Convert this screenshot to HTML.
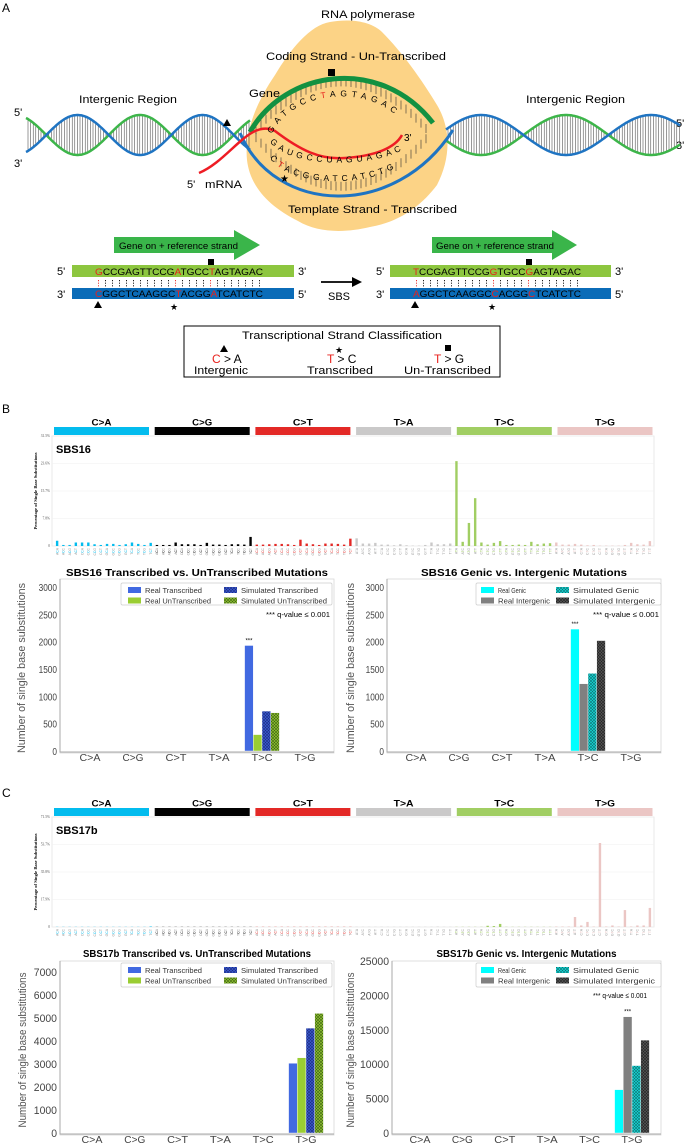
<!DOCTYPE html>
<html><head><meta charset="utf-8"><title>Transcriptional strand figure</title>
<style>
html,body{margin:0;padding:0;background:#fff;}
svg{display:block;font-family:"Liberation Sans",Arial,sans-serif;}
</style></head>
<body>
<svg id="fig" width="685" height="1146" viewBox="0 0 685 1146" xmlns="http://www.w3.org/2000/svg">
<defs>
  <pattern id="hatchBlue" width="3" height="3" patternUnits="userSpaceOnUse"><rect width="3" height="3" fill="#3b5bd0"/><path d="M0,3L3,0M0,0L3,3" stroke="#1a2a80" stroke-width="0.6"/></pattern>
  <pattern id="hatchGreen" width="3" height="3" patternUnits="userSpaceOnUse"><rect width="3" height="3" fill="#8fc232"/><path d="M0,3L3,0M0,0L3,3" stroke="#3d6010" stroke-width="0.6"/></pattern>
  <pattern id="hatchCyan" width="3" height="3" patternUnits="userSpaceOnUse"><rect width="3" height="3" fill="#19d4d4"/><path d="M0,3L3,0M0,0L3,3" stroke="#0a7070" stroke-width="0.6"/></pattern>
  <pattern id="hatchGray" width="3" height="3" patternUnits="userSpaceOnUse"><rect width="3" height="3" fill="#555"/><path d="M0,3L3,0M0,0L3,3" stroke="#222" stroke-width="0.6"/></pattern>
  <path id="topArcPath" d="M272,134 C292,90 372,82 404,124"/>
  <path id="mrnaPath" d="M270,142 C290,168 370,168 402,150"/>
  <path id="tmplPath" d="M270,158 C290,188 372,188 402,163"/>
</defs>

<!-- ================= PANEL A ================= -->
<g>
  <text x="2" y="12" font-size="12">A</text>
  <path fill="#fcd386" d="M330,22 C352,18 372,22 382,32 C402,52 422,80 437,105 C452,130 450,160 437,185 C422,205 400,222 370,227 C345,233 318,233 298,221 C268,206 250,186 247,160 C244,130 258,100 275,75 C290,50 310,25 330,22 Z"/>
  <text x="321" y="18" font-size="11" textLength="94" lengthAdjust="spacingAndGlyphs">RNA polymerase</text>
  <text x="266" y="60" font-size="11" textLength="180" lengthAdjust="spacingAndGlyphs">Coding Strand - Un-Transcribed</text>
  <text x="79" y="103" font-size="11" textLength="98" lengthAdjust="spacingAndGlyphs">Intergenic Region</text>
  <text x="526" y="103" font-size="11" textLength="99" lengthAdjust="spacingAndGlyphs">Intergenic Region</text>
  <text x="249" y="97" font-size="11" textLength="31" lengthAdjust="spacingAndGlyphs">Gene</text>
  <text x="14" y="116" font-size="11">5'</text>
  <text x="14" y="167" font-size="11">3'</text>
  <text x="676" y="127" font-size="11">5'</text>
  <text x="676" y="149" font-size="11">3'</text>
  <g id="helix"></g>
  <g id="blobRungs"></g>
  <path d="M250,132 C285,70 380,55 433,123" fill="none" stroke="#139141" stroke-width="5"/>
  <path d="M240,133 C275,215 395,220 453,130" fill="none" stroke="#1f74c2" stroke-width="3"/>
  <path d="M199,173 C230,160 250,118 275,131 C300,150 320,160 345,158 C375,156 395,148 402,135" fill="none" stroke="#ee1c24" stroke-width="2.5"/>
  <rect x="328" y="69" width="7" height="7" fill="#000"/>
  <polygon points="227,119 231,126 223,126" fill="#000"/>
  <text x="280" y="182" font-size="10">★</text>
  <text font-size="8.5"><textPath href="#topArcPath" letter-spacing="4.5">GATGCC<tspan fill="#e8221c">T</tspan>AGTAGAC</textPath></text>
  <text font-size="8.5"><textPath href="#mrnaPath" letter-spacing="4">GAUGCCUAGUAGAC</textPath></text>
  <text font-size="8.5"><textPath href="#tmplPath" letter-spacing="4">C<tspan fill="#e8221c">T</tspan>ACGGATCATCTG</textPath></text>
  <text x="404" y="141" font-size="10">3'</text>
  <text x="187" y="188" font-size="11">5'</text>
  <text x="205" y="188" font-size="11" textLength="37" lengthAdjust="spacingAndGlyphs">mRNA</text>
  <text x="288" y="213" font-size="11" textLength="169" lengthAdjust="spacingAndGlyphs">Template Strand - Transcribed</text>

  <g>
    <polygon points="114,237 234,237 234,230 260,245 234,260 234,253 114,253" fill="#3ab54a"/>
    <text x="119" y="249" font-size="9" textLength="119" lengthAdjust="spacingAndGlyphs">Gene on + reference strand</text>
    <rect x="72" y="265" width="222" height="12" fill="#8dc63f"/>
    <rect x="72" y="288" width="222" height="11" fill="#0b6cb8"/>
    <text x="95" y="275" font-size="9" textLength="168" lengthAdjust="spacingAndGlyphs"><tspan fill="#e8221c">G</tspan>CCGAGTTCCG<tspan fill="#e8221c">A</tspan>TGCC<tspan fill="#e8221c">T</tspan>AGTAGAC</text>
    <text x="95" y="297" font-size="9" textLength="168" lengthAdjust="spacingAndGlyphs"><tspan fill="#e8221c">C</tspan>GGCTCAAGGC<tspan fill="#e8221c">T</tspan>ACGG<tspan fill="#e8221c">A</tspan>TCATCTC</text>
    <text x="57" y="275" font-size="11">5'</text>
    <text x="298" y="275" font-size="11">3'</text>
    <text x="57" y="298" font-size="11">3'</text>
    <text x="298" y="298" font-size="11">5'</text>
    <rect x="208" y="259" width="6" height="6" fill="#000"/>
    <polygon points="98,301 102,308 94,308" fill="#000"/>
    <text x="170" y="310" font-size="9">★</text>
    <g id="dotsLeft"></g>
  </g>
  <line x1="321" y1="282" x2="355" y2="282" stroke="#000" stroke-width="1.8"/>
  <polygon points="362,282 352,277 352,287" fill="#000"/>
  <text x="328" y="300" font-size="11">SBS</text>
  <g>
    <polygon points="432,237 552,237 552,230 577,245 552,260 552,253 432,253" fill="#3ab54a"/>
    <text x="436" y="249" font-size="9" textLength="118" lengthAdjust="spacingAndGlyphs">Gene on + reference strand</text>
    <rect x="390" y="265" width="221" height="12" fill="#8dc63f"/>
    <rect x="390" y="288" width="221" height="11" fill="#0b6cb8"/>
    <text x="413" y="275" font-size="9" textLength="168" lengthAdjust="spacingAndGlyphs"><tspan fill="#e8221c">T</tspan>CCGAGTTCCG<tspan fill="#e8221c">G</tspan>TGCC<tspan fill="#e8221c">G</tspan>AGTAGAC</text>
    <text x="413" y="297" font-size="9" textLength="168" lengthAdjust="spacingAndGlyphs"><tspan fill="#e8221c">A</tspan>GGCTCAAGGC<tspan fill="#e8221c">C</tspan>ACGG<tspan fill="#e8221c">C</tspan>TCATCTC</text>
    <text x="376" y="275" font-size="11">5'</text>
    <text x="615" y="275" font-size="11">3'</text>
    <text x="376" y="298" font-size="11">3'</text>
    <text x="615" y="298" font-size="11">5'</text>
    <rect x="526" y="259" width="6" height="6" fill="#000"/>
    <polygon points="415,301 419,308 411,308" fill="#000"/>
    <text x="488" y="310" font-size="9">★</text>
    <g id="dotsRight"></g>
  </g>
  <g>
    <rect x="184" y="326" width="316" height="51" fill="#fff" stroke="#000" stroke-width="1"/>
    <text x="242" y="339" font-size="11" textLength="200" lengthAdjust="spacingAndGlyphs">Transcriptional Strand Classification</text>
    <polygon points="224,345 228,352 220,352" fill="#000"/>
    <text x="212" y="363" font-size="12"><tspan fill="#e8221c">C</tspan> &gt; A</text>
    <text x="194" y="374" font-size="11" textLength="54" lengthAdjust="spacingAndGlyphs">Intergenic</text>
    <text x="335" y="353" font-size="9">★</text>
    <text x="327" y="363" font-size="12"><tspan fill="#e8221c">T</tspan> &gt; C</text>
    <text x="307" y="374" font-size="11" textLength="66" lengthAdjust="spacingAndGlyphs">Transcribed</text>
    <rect x="445" y="345" width="6" height="6" fill="#000"/>
    <text x="434" y="363" font-size="12"><tspan fill="#e8221c">T</tspan> &gt; G</text>
    <text x="404" y="374" font-size="11" textLength="87" lengthAdjust="spacingAndGlyphs">Un-Transcribed</text>
  </g>
</g>

<text x="2" y="413" font-size="12">B</text>
<g id="profileB"></g>
<g id="strandB"></g>
<g id="genicB"></g>

<text x="2" y="797" font-size="12">C</text>
<g id="profileC"></g>
<g id="strandC"></g>
<g id="genicC"></g>
</svg>

<script>
const mutTypes = ['C>A','C>G','C>T','T>A','T>C','T>G'];
const mutColors = ['#03bcee','#010101','#e32926','#cac9c9','#a1ce63','#ebc6c4'];
const sbs16Pct = [
 1.5,0.3,0.3,1.0,1.0,1.0,0.5,0.3,0.6,0.6,0.3,0.5,1.0,0.6,0.3,0.9,
 0.3,0.3,0.3,1.0,0.5,0.5,0.5,0.3,0.9,0.4,0.4,0.3,0.5,0.5,0.4,2.6,
 0.4,0.4,0.5,0.6,0.6,0.5,0.3,1.8,0.7,0.5,0.3,0.7,0.7,0.6,0.4,2.1,
 2.2,0.7,0.7,0.9,0.4,0.4,0.2,0.5,0.2,0.1,0.1,0.3,1.0,0.5,0.5,0.7,
 24.3,1.2,6.6,13.7,1.0,0.4,0.9,1.4,0.3,0.3,0.4,0.3,1.2,0.5,0.7,0.8,
 1.0,0.4,0.4,0.6,0.4,0.2,0.3,0.1,0.1,0.1,0.1,0.3,0.9,0.5,0.4,1.4];
const sbs16Ticks = ['0','7.8%','15.7%','23.6%','31.5%'];
const sbs17bPct = [
 0.1,0.1,0.1,0.1,0.1,0.1,0.1,0.1,0.1,0.1,0.1,0.1,0.1,0.1,0.1,0.3,
 0.1,0.1,0.1,0.1,0.1,0.1,0.1,0.1,0.1,0.1,0.1,0.1,0.1,0.1,0.1,0.1,
 0.1,0.1,0.1,0.1,0.1,0.1,0.1,0.1,0.1,0.1,0.1,0.1,0.1,0.1,0.1,0.1,
 0.1,0.1,0.1,0.1,0.1,0.1,0.1,0.1,0.1,0.1,0.1,0.1,0.1,0.2,0.1,0.1,
 0.1,0.1,0.1,0.1,0.1,0.8,0.6,2.0,0.1,0.1,0.1,0.1,0.1,0.1,0.1,0.1,
 0.3,0.3,0.3,6.5,1.0,3.3,0.3,54.6,0.3,1.0,0.3,11.0,0.3,1.0,1.0,12.4];
const sbs17bTicks = ['0','17.9%','35.8%','53.7%','71.5%'];

const strandLegend = ['Real Transcribed','Real UnTranscribed','Simulated Transcribed','Simulated UnTranscribed'];
const genicLegend = ['Real Genic','Real Intergenic','Simulated Genic','Simulated Intergenic'];

const b_realTranscribed   = [0,0,0,0,1930,0];
const b_realUntranscribed = [0,0,0,0,300,0];
const b_simTranscribed    = [0,0,0,0,730,0];
const b_simUntranscribed  = [0,0,0,0,700,0];
const b_strandTicks = [0,500,1000,1500,2000,2500,3000];
const b_realGenic      = [0,0,0,0,2230,0];
const b_realIntergenic = [0,0,0,0,1230,0];
const b_simGenic       = [0,0,0,0,1420,0];
const b_simIntergenic  = [0,0,0,0,2020,0];
const b_genicTicks = [0,500,1000,1500,2000,2500,3000];

const c_realTranscribed   = [0,0,0,0,0,3030];
const c_realUntranscribed = [0,0,0,0,0,3270];
const c_simTranscribed    = [0,0,0,0,0,4560];
const c_simUntranscribed  = [0,0,0,0,0,5200];
const c_strandTicks = [0,1000,2000,3000,4000,5000,6000,7000];
const c_realGenic      = [0,0,0,0,0,6300];
const c_realIntergenic = [0,0,0,0,0,16900];
const c_simGenic       = [0,0,0,0,0,9800];
const c_simIntergenic  = [0,0,0,0,0,13500];
const c_genicTicks = [0,5000,10000,15000,20000,25000];

const NS = 'http://www.w3.org/2000/svg';
function mk(tag, attrs, parent){
  const e = document.createElementNS(NS, tag);
  for (const k in attrs) e.setAttribute(k, attrs[k]);
  parent.appendChild(e);
  return e;
}

(function(){
  const g = document.getElementById('helix');
  function seg(x0,x1,peak,period,cy,amp,inv){
    let d='';
    for(let x=x0;x<=x1;x+=1){
      const y = cy - (inv?-1:1)*amp*Math.cos(2*Math.PI*(x-peak)/period);
      d += (x===x0?'M':'L')+x+','+y.toFixed(1);
    }
    return d;
  }
  const parts = [[26,250,140,125,135],[446,680,566,170,135]];
  parts.forEach((p)=>{
    for(let x=p[0]+2;x<p[1];x+=2.6){
      const a = 20*Math.cos(2*Math.PI*(x-p[2])/p[3]);
      const r = mk('line',{x1:x,x2:x,y1:(p[4]-a).toFixed(1),y2:(p[4]+a).toFixed(1),stroke:'#333','stroke-width':0.5},g);
      
      
    }
    const gr = mk('path',{d:seg(p[0],p[1],p[2],p[3],p[4],20,false),fill:'none',stroke:'#3db54a','stroke-width':2.5},g);
    
    
    const bl = mk('path',{d:seg(p[0],p[1],p[2],p[3],p[4],20,true),fill:'none',stroke:'#1f74c2','stroke-width':2.5},g);
    
    
  });
  const br = document.getElementById('blobRungs');
  for(let x=256;x<=430;x+=5){
    const t=(x-250)/183;
    const yt = 132 - 230*t*(1-t)*0.95;
    const yb = 135 + 235*t*(1-t)*0.95;
    const l1 = mk('line',{x1:x,x2:x,y1:yt.toFixed(1),y2:(yt+9).toFixed(1),stroke:'#333','stroke-width':0.6},br);
    
    
    const l2 = mk('line',{x1:x,x2:x,y1:(yb-9).toFixed(1),y2:yb.toFixed(1),stroke:'#333','stroke-width':0.6},br);
    
    
  }
  [['dotsLeft',95],['dotsRight',413]].forEach(([id,x0])=>{
    const gd = document.getElementById(id);
    for(let i=0;i<24;i++){
      const red = (i===0||i===11||i===16);
      const l = mk('line',{x1:x0+3.5+i*7,x2:x0+3.5+i*7,y1:280,y2:287,stroke:red?'#e8221c':'#000','stroke-width':0.9,'stroke-dasharray':'1.2,1.4'},gd);
      
      
    }
  });
})();

function drawProfile(id, title, vals, maxPct, tickLabels, yCat, yTop, yBot){
  const g = document.getElementById(id);
  const x0=54, step=(653-54)/96;
  mutTypes.forEach((m,k)=>{
    const r = mk('rect',{x:54+100.7*k,y:yCat,width:95,height:8,fill:mutColors[k]},g);
    
    
    const t = mk('text',{x:54+100.7*k+47.5,y:yCat-1.5,'font-size':9.5,'font-weight':'bold','text-anchor':'middle',textLength:20,lengthAdjust:'spacingAndGlyphs'},g);
    t.textContent = m;
    
    
  });
  const box = mk('rect',{x:52,y:yTop,width:602,height:yBot-yTop,fill:'#fff',stroke:'#e4e4e4','stroke-width':0.8},g);
  
  
  const ys = v => yBot - v/maxPct*(yBot-yTop);
  tickLabels.forEach((lab,i)=>{
    const y = yBot - i/(tickLabels.length-1)*(yBot-yTop);
    const gl = mk('line',{x1:52,x2:654,y1:y,y2:y,stroke:'#f0f0f0','stroke-width':0.6},g);
    
    
    const t = mk('text',{x:50,y:y+1.2,'font-size':3.6,'text-anchor':'end',fill:'#555','font-family':'Liberation Serif, serif'},g);
    t.textContent = lab;
    
    
  });
  const yl = mk('text',{x:0,y:0,'font-size':4.6,'font-weight':'bold','text-anchor':'middle','font-family':'Liberation Serif, serif',transform:'translate(37,'+((yTop+yBot)/2)+') rotate(-90)'},g);
  yl.textContent = 'Percentage of Single Base Substitutions';
  
  
  const tt = mk('text',{x:56,y:yTop+17,'font-size':11,'font-weight':'bold'},g);
  tt.textContent = title;
  
  
  const bases='ACGT';
  vals.forEach((v,i)=>{
    const k = Math.floor(i/16);
    const cx = x0 + (i+0.5)*step;
    const b = mk('rect',{x:(cx-1.2).toFixed(2),y:ys(v).toFixed(2),width:2.4,height:(yBot-ys(v)).toFixed(2),fill:mutColors[k]},g);
    
    
    const ctx = bases[Math.floor((i%16)/4)] + mutTypes[k][0] + bases[i%4];
    const t = mk('text',{x:0,y:0,'font-size':3.4,fill:'#999','text-anchor':'end',transform:'translate('+(cx+1.2).toFixed(2)+','+(yBot+2)+') rotate(-90)'},g);
    t.textContent = ctx[0];
    const mid = mk('tspan',{fill:mutColors[k]},t);
    mid.textContent = ctx[1];
    const tail = mk('tspan',{},t);
    tail.textContent = ctx[2];
    
    
  });
}
drawProfile('profileB','SBS16',sbs16Pct,31.5,sbs16Ticks,427,436,546);
drawProfile('profileC','SBS17b',sbs17bPct,71.5,sbs17bTicks,808,817,927);

function drawBars(id, cfg){
  const g = document.getElementById(id);
  const {x0,x1,yTop,yZero,yMax,ticks,c0,dc,series,fills,legend,title,titleLen,titleY,sig,q,ylabelX,tickFont,tickLenPerChar} = cfg;
  const ys = v => yZero - v/yMax*(yZero-(cfg.yMaxPx));
  const fr = mk('rect',{x:x0,y:yTop,width:x1-x0,height:yZero-yTop+2,fill:'#fff',stroke:'#d8d8d8','stroke-width':0.8},g);
  
  
  const ax = mk('path',{d:'M'+x0+','+yTop+'V'+(yZero+1)+'H'+x1,fill:'none',stroke:'#aaa','stroke-width':1},g);
  
  
  ticks.forEach(v=>{
    const s = String(v);
    const t = mk('text',{x:x0-3,y:ys(v)+4,'font-size':tickFont,'text-anchor':'end',fill:'#444',textLength:s.length*tickLenPerChar,lengthAdjust:'spacingAndGlyphs'},g);
    t.textContent = s;
    
    
  });
  const yl = mk('text',{x:0,y:0,'font-size':11,'text-anchor':'middle',fill:'#555',textLength:cfg.ylabelLen,lengthAdjust:'spacingAndGlyphs',transform:'translate('+ylabelX+','+((yTop+yZero)/2+3)+') rotate(-90)'},g);
  yl.textContent = 'Number of single base substitutions';
  
  
  const tt = mk('text',{x:(x0+x1)/2,y:titleY,'font-size':10.5,'font-weight':'bold','text-anchor':'middle',textLength:titleLen,lengthAdjust:'spacingAndGlyphs'},g);
  tt.textContent = title;
  
  
  const bw = 8.7;
  mutTypes.forEach((m,i)=>{
    const cx = c0 + dc*i;
    const t = mk('text',{x:cx,y:yZero+10,'font-size':10,'text-anchor':'middle',fill:'#444',textLength:21,lengthAdjust:'spacingAndGlyphs'},g);
    t.textContent = m;
    
    
    series.forEach((arr,s)=>{
      const v = arr[i];
      if(v<=0) return;
      const bx = cx - 2*bw + s*bw;
      const r = mk('rect',{x:bx.toFixed(2),y:ys(v).toFixed(2),width:bw,height:(yZero-ys(v)).toFixed(2),fill:fills[s],stroke:'#fff','stroke-width':0.4},g);
      
      
    });
    if(sig && sig.cat===i){
      const v = series[sig.series][i];
      const st = mk('text',{x:cx-2*bw+sig.series*bw+bw/2,y:ys(v)-3,'font-size':6,'text-anchor':'middle'},g);
      st.textContent = '***';
      
      
    }
  });
  const L = cfg.leg;
  const lf = mk('rect',{x:L.x,y:L.y,width:L.w,height:L.h,fill:'#fff',stroke:'#ccc','stroke-width':0.7,rx:1.5},g);
  
  
  legend.forEach((name,s)=>{
    const col = s<2?0:1, row = s%2;
    const sx = L.sx[col], y = L.y+4+row*10.5;
    const sw = mk('rect',{x:sx,y:y,width:13,height:6,fill:fills[s]},g);
    
    
    const t = mk('text',{x:sx+17,y:y+6,'font-size':7.5,fill:'#333',textLength:L.lens[s],lengthAdjust:'spacingAndGlyphs'},g);
    t.textContent = name;
    
    
  });
  if(q){
    const t = mk('text',{x:q.x,y:q.y,'font-size':7.5,'text-anchor':'end',textLength:q.len,lengthAdjust:'spacingAndGlyphs'},g);
    t.textContent = '*** q-value ≤ 0.001';
    
    
  }
}
const strandFills = ['#4169e1','#9acd32','url(#hatchBlue)','url(#hatchGreen)'];
const genicFills = ['#00ffff','#808080','url(#hatchCyan)','url(#hatchGray)'];

drawBars('strandB',{x0:60,x1:334,yTop:579,yZero:751,yMax:3000,yMaxPx:587,ticks:b_strandTicks,c0:90,dc:43,
  series:[b_realTranscribed,b_realUntranscribed,b_simTranscribed,b_simUntranscribed],fills:strandFills,legend:strandLegend,
  title:'SBS16 Transcribed vs. UnTranscribed Mutations',titleLen:262,titleY:576,sig:{cat:4,series:0},
  q:{x:330,y:617,len:64},ylabelX:25,ylabelLen:170,tickFont:10,tickLenPerChar:4.6,
  leg:{x:121,y:583,w:211,h:22,sx:[128,224],lens:[57,66,77,86]}});
drawBars('genicB',{x0:387,x1:661,yTop:579,yZero:751,yMax:3000,yMaxPx:587,ticks:b_genicTicks,c0:416,dc:43,
  series:[b_realGenic,b_realIntergenic,b_simGenic,b_simIntergenic],fills:genicFills,legend:genicLegend,
  title:'SBS16 Genic vs. Intergenic Mutations',titleLen:206,titleY:576,sig:{cat:4,series:0},
  q:{x:659,y:617,len:66},ylabelX:354,ylabelLen:170,tickFont:10,tickLenPerChar:4.6,
  leg:{x:476,y:583,w:185,h:22,sx:[481,556],lens:[28,52,66,82]}});
drawBars('strandC',{x0:60,x1:334,yTop:961,yZero:1133,yMax:7000,yMaxPx:972,ticks:c_strandTicks,c0:92,dc:42.8,
  series:[c_realTranscribed,c_realUntranscribed,c_simTranscribed,c_simUntranscribed],fills:strandFills,legend:strandLegend,
  title:'SBS17b Transcribed vs. UnTranscribed Mutations',titleLen:228,titleY:957,sig:null,
  q:null,ylabelX:26,ylabelLen:155,tickFont:11,tickLenPerChar:5.8,
  leg:{x:121,y:963,w:211,h:24,sx:[128,224],lens:[57,66,77,86]}});
drawBars('genicC',{x0:392,x1:661,yTop:961,yZero:1133,yMax:25000,yMaxPx:961,ticks:c_genicTicks,c0:420,dc:42.4,
  series:[c_realGenic,c_realIntergenic,c_simGenic,c_simIntergenic],fills:genicFills,legend:genicLegend,
  title:'SBS17b Genic vs. Intergenic Mutations',titleLen:180,titleY:957,sig:{cat:5,series:1},
  q:{x:647,y:998,len:54},ylabelX:354,ylabelLen:155,tickFont:11,tickLenPerChar:5.8,
  leg:{x:476,y:963,w:185,h:24,sx:[481,556],lens:[28,52,66,82]}});
</script>
</body></html>
